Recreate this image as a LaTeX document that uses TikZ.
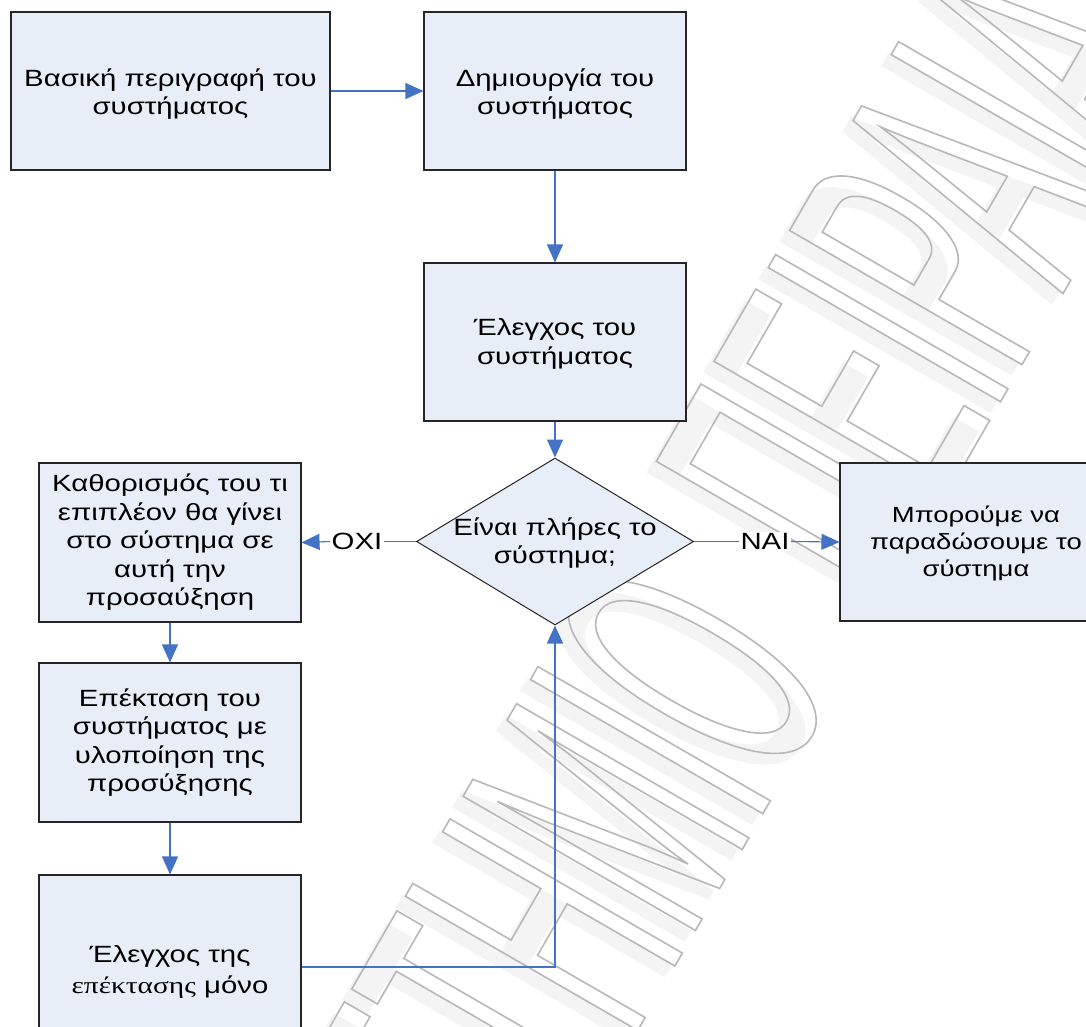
\documentclass[tikz,border=0pt]{standalone}
\usepackage{fontspec}
\setmainfont{Liberation Sans}[FakeStretch=1.25]
\newfontfamily\timesf{Liberation Serif}[FakeStretch=1.25]
\newfontfamily\wmfont{Liberation Sans}[FakeStretch=0.41]
\usetikzlibrary{arrows.meta,shapes.geometric}
\definecolor{boxfill}{RGB}{232,238,248}
\definecolor{arrowblue}{RGB}{68,114,196}
\definecolor{wmshadow}{RGB}{244,244,244}
\definecolor{wmfallback}{RGB}{228,228,228}
\newcommand{\wmtext}[1]{{\wmfont\fontsize{390}{400}\selectfont\color{wmfallback}\special{pdf:literal direct 1 Tr 1.6 w 0.72 0.72 0.72 RG}#1\special{pdf:literal direct 0 Tr}}}
\newcommand{\wmfill}[1]{{\wmfont\fontsize{390}{400}\selectfont\color{wmshadow}#1}}
\begin{document}
\begin{tikzpicture}[x=1pt,y=-1pt,
  box/.style={draw=black!85, line width=1.1pt, fill=boxfill, align=center,
    font=\fontsize{23.5}{28.5}\selectfont, inner sep=0pt, minimum height=158pt},
  dia/.style={diamond, draw=black!85, line width=1pt, fill=boxfill, inner sep=0pt,
    minimum width=277pt, minimum height=167pt},
  txt/.style={align=center, font=\fontsize{23.5}{28.5}\selectfont, inner sep=0pt},
  conn/.style={draw=arrowblue, line width=1.1pt, -{Triangle[length=18pt,width=16pt]}},
  plain/.style={draw=arrowblue, line width=1.1pt},
  lbl/.style={fill=white, inner sep=1.5pt, font=\fontsize{23.5}{28}\selectfont}]
\clip (0,0) rectangle (1086,1026);
\useasboundingbox (0,0) rectangle (1086,1026);
\fill[white] (0,0) rectangle (1086,1026);
% watermark
\node[rotate=60, anchor=base east, inner sep=0pt] (wm1s) at (830,692) {\wmfill{ΠΑΝΕΠΙΣΤΗΜΙΟ}};
\node[rotate=60, anchor=base west, inner sep=0pt] (wm2s) at (872,619) {\wmfill{ΠΕΙΡΑΙΑ}};
\node[rotate=60, anchor=base east, inner sep=0pt] (wm1) at (840,680) {\wmtext{ΠΑΝΕΠΙΣΤΗΜΙΟ}};
\node[rotate=60, anchor=base west, inner sep=0pt] (wm2) at (882,607) {\wmtext{ΠΕΙΡΑΙΑ}};
% boxes
\node[box, minimum width=319pt] (b1) at (170.5,91) {};
\node[txt] (b1t) at (170.5,94) {Βασική περιγραφή του\\συστήματος};
\node[box, minimum width=262pt] (b2) at (555,91) {};
\node[txt] (b2t) at (555,94) {Δημιουργία του\\συστήματος};
\node[box, minimum width=262pt] (b3) at (555,342) {};
\node[txt] (b3t) at (555,344) {Έλεγχος του\\συστήματος};
\node[dia] (dec) at (555,541.5) {};
\node[txt] (dect) at (555,543) {Είναι πλήρες το\\σύστημα;};
\node[box, minimum width=274pt] (rb) at (977,542) {};
\node[txt, font=\fontsize{22}{27}\selectfont] (rbt) at (976,543) {Μπορούμε να\\παραδώσουμε το\\σύστημα};
\node[box, minimum width=262pt, minimum height=159pt] (l1) at (170,542.5) {Καθορισμός του τι\\επιπλέον θα γίνει\\στο σύστημα σε\\αυτή την\\προσαύξηση};
\node[box, minimum width=262pt, minimum height=159pt] (l2) at (170,742.5) {Επέκταση του\\συστήματος με\\υλοποίηση της\\προσύξησης};
\node[box, minimum width=262pt] (l3) at (170,954) {};
\node[txt] (l3t) at (170,972) {Έλεγχος της\\[3pt]{\timesf επέκτασης} μόνο};
% labels
\node[lbl] (nail) at (765,541.5) {ΝΑΙ};
\node[lbl] (oxil) at (357,541.5) {ΟΧΙ};
% connectors
\draw[conn] (b1.east) -- (b2.west);
\draw[conn] (b2.south) -- (b3.north);
\draw[conn] (b3.south) -- (dec.north);
\draw[plain] (dec.east) -- (nail.west);
\draw[conn] (nail.east) -- (rb.west);
\draw[plain] (dec.west) -- (oxil.east);
\draw[conn] (oxil.west) -- (l1.east);
\draw[conn] (l1.south) -- (l2.north);
\draw[conn] (l2.south) -- (l3.north);
\draw[conn] ([yshift=-13pt]l3.east) -| (dec.south);
\end{tikzpicture}
\end{document}
